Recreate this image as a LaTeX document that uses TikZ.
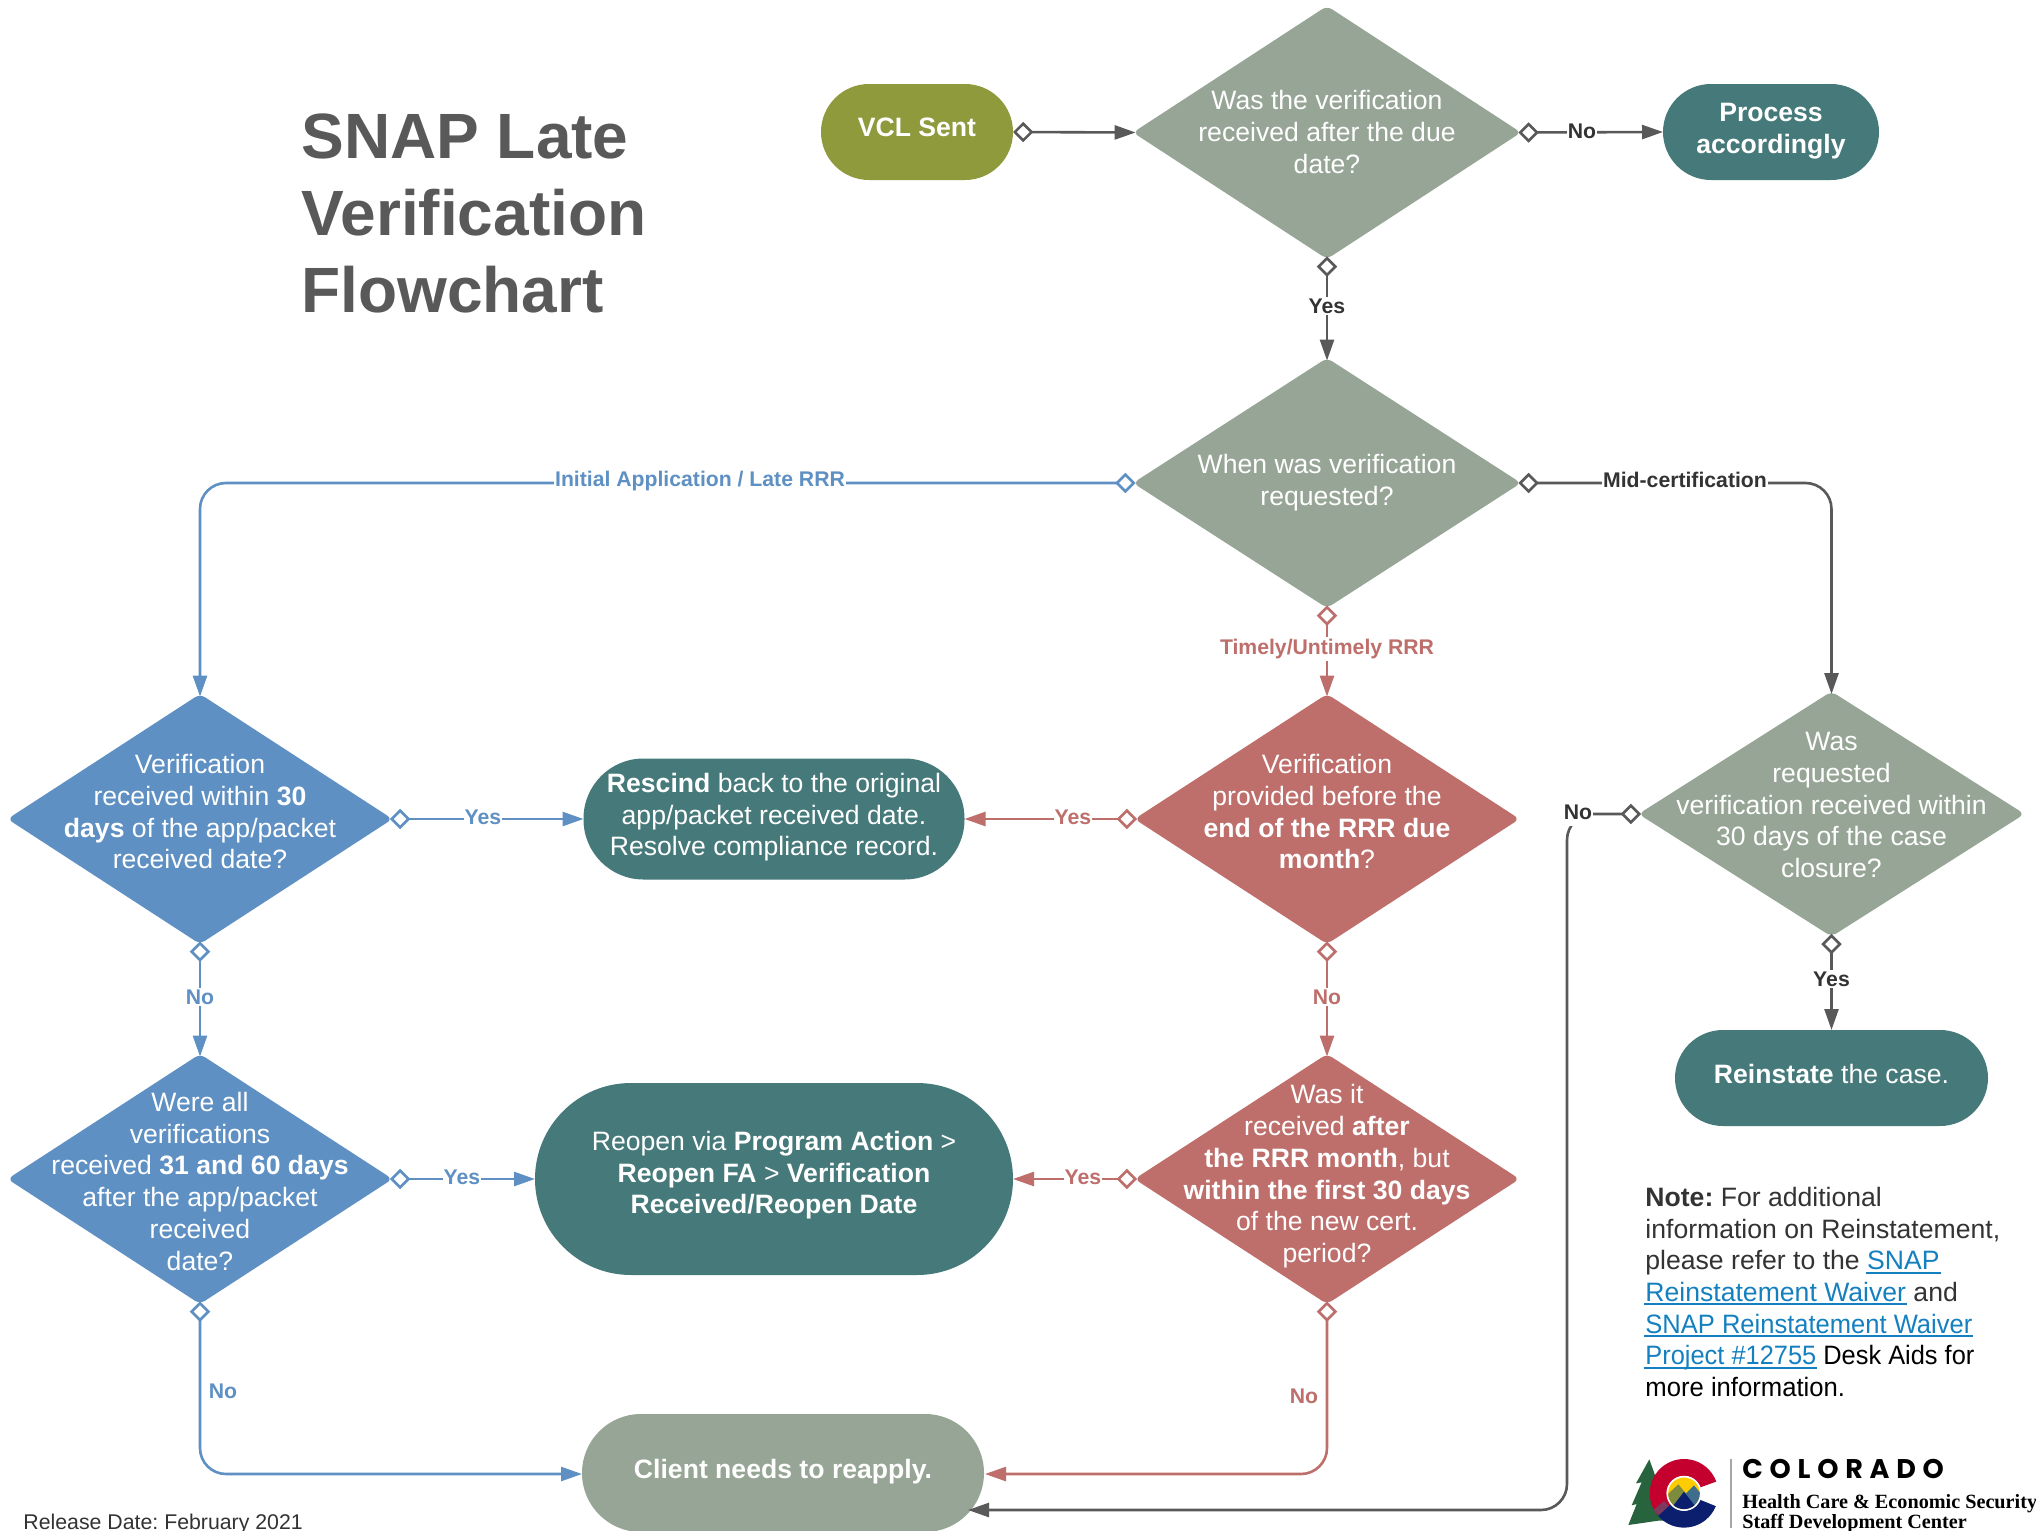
\documentclass[tikz,border=0pt]{standalone}
\usepackage{fontspec}
\setmainfont{Liberation Sans}
\newfontfamily\cofont[LetterSpace=25]{Poppins}
\newfontfamily\hcfont{Liberation Serif}
\usetikzlibrary{arrows.meta,shapes.geometric}
\definecolor{sage}{HTML}{96A595}
\definecolor{teal2}{HTML}{46797A}
\definecolor{olive2}{HTML}{8F9A3D}
\definecolor{blue2}{HTML}{5E90C3}
\definecolor{red2}{HTML}{BE6F6B}
\definecolor{gray2}{HTML}{595959}
\definecolor{ink}{HTML}{333333}
\definecolor{linkc}{HTML}{1580BF}
\definecolor{treeg}{HTML}{27633C}
\definecolor{cred}{HTML}{C4002F}
\definecolor{cnavy}{HTML}{0B1F6E}
\definecolor{cgold}{HTML}{FFCC00}
\definecolor{colive}{HTML}{7C8B3E}
\definecolor{csteel}{HTML}{3E6E8C}
\definecolor{cpurp}{HTML}{7A3B5E}
\frenchspacing
\newcommand{\nt}[2]{\smash{\makebox[0pt]{\raisebox{\dimexpr#1pt-1.6pt\relax}{\begin{tabular}{@{}c@{}}#2\end{tabular}}}}}
\newcommand{\lnk}[1]{\textcolor{linkc}{\setbox0\hbox{#1}\rlap{\kern-0.8pt\vrule width \dimexpr\wd0+1.4pt\relax height -0.9pt depth 1.9pt}\box0}}
\tikzset{
  x=0.5pt,y=-0.5pt,
  body/.style={font=\fontsize{13.3}{15.9}\selectfont,text=white,inner sep=0pt,outer sep=0pt},
  dia/.style={body,shape=diamond,aspect=1,draw=none,rounded corners=3pt,minimum width=#1},
  pill/.style={body,shape=rectangle,draw=none},
  conn/.style={line width=1.3pt,draw=gray2,{Diamond[open,length=10.2pt,width=10.2pt]}-{Triangle[length=10.5pt,width=7pt,fill=gray2]}},
  connb/.style={conn,draw=blue2,{Diamond[open,length=10.2pt,width=10.2pt]}-{Triangle[length=10.5pt,width=7pt,fill=blue2]}},
  connr/.style={conn,draw=red2,{Diamond[open,length=10.2pt,width=10.2pt]}-{Triangle[length=10.5pt,width=7pt,fill=red2]}},
  fromdia/.style={shorten <=-1.3pt},
  todia/.style={shorten >=-1.3pt},
  lab/.style={font=\fontsize{10.6}{12}\selectfont\bfseries,text=ink,fill=white,inner xsep=0.6pt,inner ysep=1pt,outer sep=0pt},
  labb/.style={lab,text=blue2},
  labr/.style={lab,text=red2},
}
\begin{document}
\begin{tikzpicture}
\useasboundingbox (0,0) rectangle (2036,1531);
\fill[white] (0,0) rectangle (2036,1531);

% Title
\node[anchor=west,align=left,inner sep=0pt,text=gray2,font=\fontsize{32}{38.4}\selectfont\bfseries] (title) at (301,213.5) {SNAP Late\\Verification\\Flowchart};

% Shapes
\node[pill,fill=olive2,minimum width=96pt,minimum height=48pt,rounded corners=24pt] (vcl) at (917,132) {\nt{-0.9}{\bfseries VCL Sent}};
\node[dia=194pt,fill=sage,minimum height=126.5pt] (d1) at (1327,132.5) {\nt{-3.4}{Was the verification\\received after the due\\date?}};
\node[pill,fill=teal2,minimum width=108pt,minimum height=48pt,rounded corners=24pt] (proc) at (1771,132) {\nt{-1.4}{\bfseries Process\\\bfseries accordingly}};
\node[dia=194pt,fill=sage,minimum height=125pt] (d2) at (1327,483) {\nt{-2.1}{When was verification\\requested?}};
\node[dia=193pt,fill=sage,minimum height=122.5pt] (r1) at (1831.5,814) {\nt{1.1}{Was\\requested\\verification received within\\30 days of the case\\closure?}};
\node[dia=192.5pt,fill=blue2,minimum height=125pt] (b1) at (200,819) {\nt{0.1}{Verification\\received within \textbf{30}\\\textbf{days} of the app/packet\\received date?}};
\node[dia=192.5pt,fill=red2,minimum height=125pt] (e1) at (1327,819) {\nt{0.1}{Verification\\provided before the\\\textbf{end of the RRR due}\\\textbf{month}?}};
\node[dia=192.5pt,fill=blue2,minimum height=125pt] (b2) at (200,1179) {\nt{-4.7}{Were all\\verifications\\received \textbf{31 and 60 days}\\after the app/packet\\received\\date?}};
\node[dia=192.5pt,fill=red2,minimum height=125pt] (e2) at (1327,1179) {\nt{-0.9}{Was it\\received \textbf{after}\\\textbf{the RRR month}, but\\\textbf{within the first 30 days}\\of the new cert.\\period?}};
\node[pill,fill=teal2,minimum width=190.5pt,minimum height=60.5pt,rounded corners=30pt] (resc) at (774,819) {\nt{-1.4}{\textbf{Rescind} back to the original\\app/packet received date.\\Resolve compliance record.}};
\node[pill,fill=teal2,minimum width=239pt,minimum height=96pt,rounded corners=48pt] (reop) at (774,1179) {\nt{-0.4}{Reopen via \textbf{Program Action} >\\\textbf{Reopen FA} > \textbf{Verification}\\\textbf{Received/Reopen Date}}};
\node[pill,fill=sage,minimum width=201pt,minimum height=59pt,rounded corners=29.5pt] (cli) at (783,1473) {\nt{-1.4}{\bfseries Client needs to reapply.}};
\node[pill,fill=teal2,minimum width=156.5pt,minimum height=48pt,rounded corners=24pt] (rein) at (1831.5,1078) {\nt{-1.4}{\textbf{Reinstate} the case.}};

% Connectors
\draw[conn,todia] (vcl.east) -- (d1.west);
\draw[conn,fromdia] (d1.east) -- (proc.west);
\draw[conn,fromdia,todia] (d1.south) -- (d2.north);
\draw[connb,fromdia,todia,rounded corners=13pt] (d2.west) -| (b1.north);
\draw[conn,fromdia,todia,rounded corners=13pt] (d2.east) -| (r1.north);
\draw[connr,fromdia,todia] (d2.south) -- (e1.north);
\draw[connb,fromdia] (b1.east) -- (resc.west);
\draw[connr,fromdia] (e1.west) -- (resc.east);
\draw[connb,fromdia,todia] (b1.south) -- (b2.north);
\draw[connr,fromdia,todia] (e1.south) -- (e2.north);
\draw[connb,fromdia] (b2.east) -- (reop.west);
\draw[connr,fromdia] (e2.west) -- (reop.east);
\draw[conn,fromdia] (r1.south) -- (rein.north);
\coordinate (blow) at (582,1474);
\coordinate (rlow) at (985,1474);
\draw[connb,fromdia,rounded corners=13pt] (b2.south) |- (blow);
\draw[connr,fromdia,rounded corners=13pt] (e2.south) |- (rlow);
\coordinate (cin) at (968,1510);
\coordinate (c1) at (1567,814);
\coordinate (c2) at (1567,1510);
\draw[conn,fromdia,rounded corners=13pt] (r1.west) -- (c1) -- (c2) -- (cin);

% Connector labels
\node[lab] (l1) at (1582,131) {No};
\node[lab] (l2) at (1327,306) {Yes};
\node[labb] (l3) at (700,481) {Initial Application / Late RRR};
\node[lab] (l4) at (1685,480) {Mid-certification};
\node[labr] (l5) at (1327,649) {Timely/Untimely RRR};
\node[labb] (l6) at (483,817) {Yes};
\node[labr] (l7) at (1073,817) {Yes};
\node[labb] (l8) at (200,997) {No};
\node[labr] (l9) at (1327,997) {No};
\node[labb] (l10) at (462,1177) {Yes};
\node[labr] (l11) at (1083,1177) {Yes};
\node[labb] (l12) at (223,1391) {No};
\node[labr] (l13) at (1304,1396) {No};
\node[lab,inner ysep=3.4pt] (l14) at (1578,812) {No};
\node[lab] (l15) at (1831.5,979) {Yes};

% Note
\node[anchor=west,align=left,inner sep=0pt,text=ink,font=\fontsize{13.3}{15.85}\selectfont] (note) at (1645,1292) {\textbf{Note:} For additional\\information on Reinstatement,\\please refer to the \lnk{SNAP}\\\lnk{Reinstatement Waiver} and\\\lnk{\scalebox{0.96}[1]{SNAP Reinstatement Waiver}}\\\scalebox{0.955}[1]{\lnk{Project \#12755} \textcolor{black}{Desk Aids for}}\\\scalebox{0.965}[1]{\textcolor{black}{more information.}}};

% Release date
\node[anchor=west,inner sep=0pt,text=ink,font=\fontsize{10.65}{12}\selectfont] (rel) at (23,1524) {Release Date: February 2021};

% Logo
\begin{scope}[shift={(1580,1400)},x=0.16667pt,y=-0.16667pt]
  \fill[treeg] (208,178) -- (232,245) -- (300,360) -- (235,362) -- (145,375) -- (170,312) -- (155,316) -- (185,247) -- (168,250) -- cycle;
\end{scope}
\begin{scope}[shift={(1684,1493.3)},x=0.5pt,y=0.5pt]
  \fill[cred] (20:34.3) arc[start angle=20,end angle=220,radius=34.3] -- (220:17.3) arc[start angle=220,end angle=20,radius=17.3] -- cycle;
  \fill[cnavy] (220:34.3) arc[start angle=220,end angle=338,radius=34.3] -- (338:17.3) arc[start angle=338,end angle=220,radius=17.3] -- cycle;
\end{scope}
\begin{scope}[shift={(1580,1400)},x=0.16667pt,y=-0.16667pt]
  \fill[cpurp] (220,330) -- (252,303) -- (266,318) -- (236,346) -- cycle;
  \fill[white] (312,280) circle[radius=8.8pt];
  \begin{scope}
    \clip (312,280) circle[radius=7.9pt];
    \fill[cgold] (255,225) rectangle (370,340);
    \fill[colive] (255,290) -- (295,253) -- (330,295) -- (280,340) -- (255,340) -- cycle;
    \fill[csteel] (318,280) -- (342,256) -- (370,290) -- (370,340) -- (340,340) -- cycle;
    \fill[cnavy] (262,340) -- (312,275) -- (362,340) -- cycle;
  \end{scope}
\end{scope}
\coordinate (bartop) at (1731,1459);
\coordinate (barbot) at (1731,1528);
\draw[gray!70,line width=0.7pt] (bartop) -- (barbot);
\node[anchor=west,inner sep=0pt,font=\cofont\fontsize{13.5}{15}\selectfont\bfseries,text=black] (co) at (1742,1469) {COLORADO};
\node[anchor=base west,inner sep=0pt,font=\hcfont\fontsize{10.1}{11}\selectfont\bfseries,text=black] (hc) at (1742,1508) {Health Care \& Economic Security};
\node[anchor=base west,inner sep=0pt,font=\hcfont\fontsize{10.1}{11}\selectfont\bfseries,text=black] (sd) at (1742,1528) {Staff Development Center};
\end{tikzpicture}
\end{document}
